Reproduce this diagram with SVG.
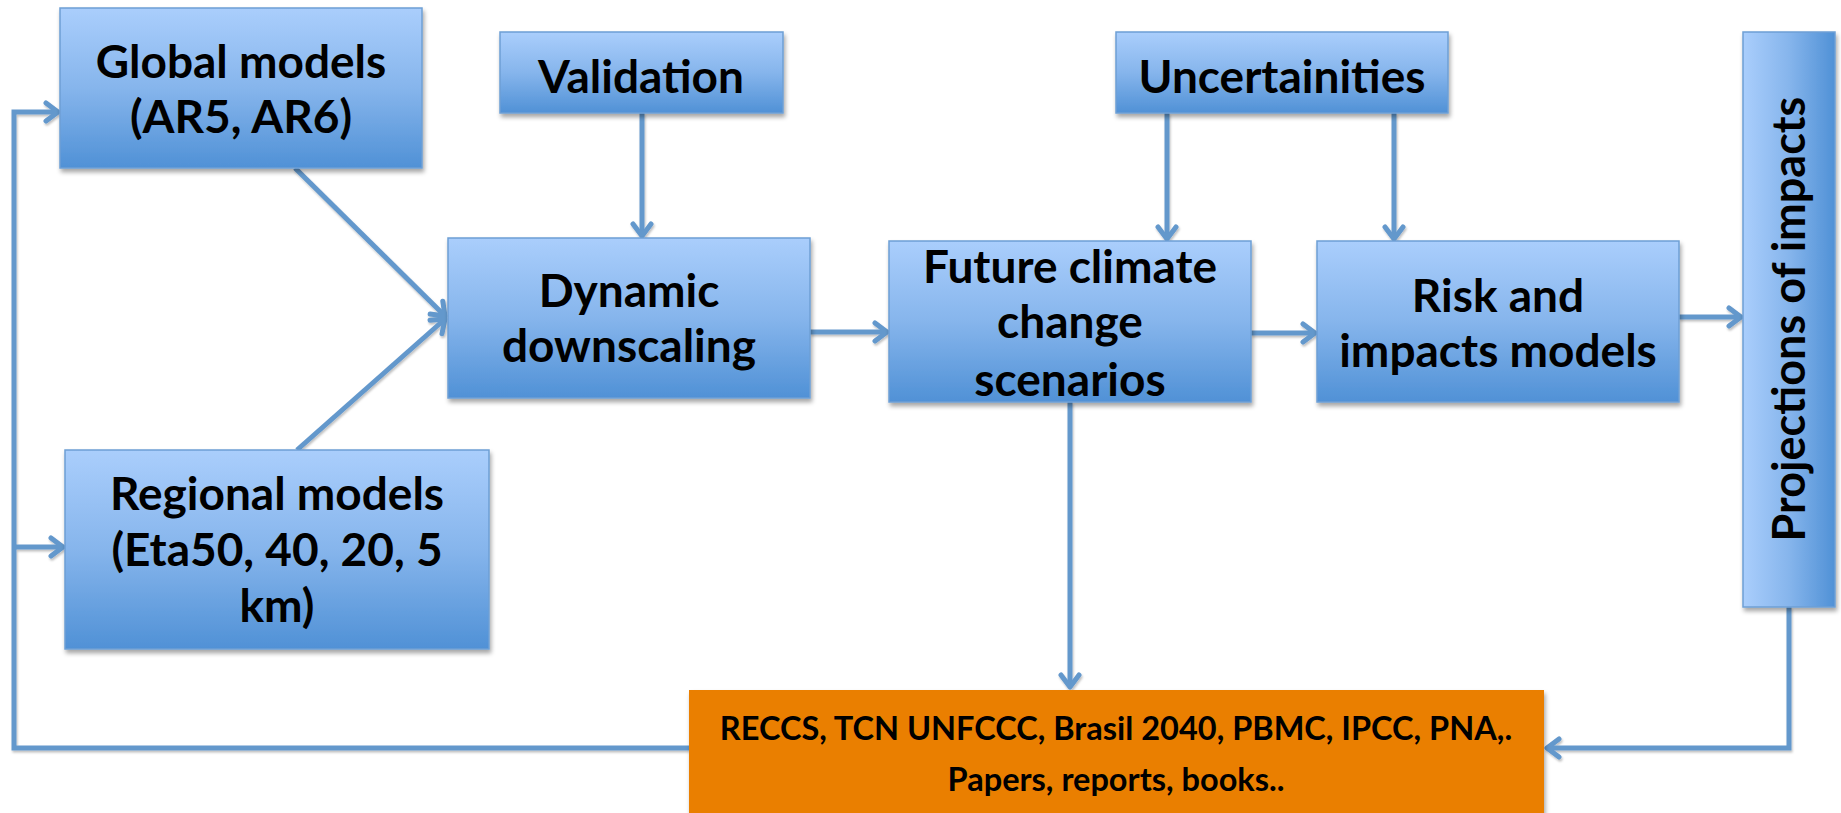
<svg xmlns="http://www.w3.org/2000/svg" width="1841" height="813" viewBox="0 0 1841 813">
  <style>
    .box { fill: url(#blueV); stroke: #6e9fd5; stroke-width: 1.5; filter: url(#shadow); }
    .boxh { fill: url(#blueH); stroke: #6e9fd5; stroke-width: 1.5; filter: url(#shadow); }
    .orange { fill: #ea7f03; filter: url(#shadow); }
    .t { font-family: Lato, "Liberation Sans", sans-serif; font-weight: bold; font-size: 46px; fill: #000; text-anchor: middle; }
    .tp { font-size: 45px; }
    .to { font-family: Lato, "Liberation Sans", sans-serif; font-weight: bold; font-size: 32.5px; fill: #000; text-anchor: middle; }
    .c { fill: none; stroke: #6498cc; stroke-width: 5; stroke-linejoin: miter; }
    .ca { marker-end: url(#arrow); }
  </style>
  <defs>
    <linearGradient id="blueV" x1="0" y1="0" x2="0" y2="1">
      <stop offset="0" stop-color="#aacefc"/>
      <stop offset="0.5" stop-color="#86b5ec"/>
      <stop offset="1" stop-color="#5091d6"/>
    </linearGradient>
    <linearGradient id="blueH" x1="0" y1="0" x2="1" y2="0">
      <stop offset="0" stop-color="#aacefc"/>
      <stop offset="0.5" stop-color="#86b5ec"/>
      <stop offset="1" stop-color="#5091d6"/>
    </linearGradient>
    <filter id="shadow" x="-10%" y="-10%" width="125%" height="130%">
      <feDropShadow dx="1.5" dy="3.5" stdDeviation="2" flood-color="#000" flood-opacity="0.35"/>
    </filter>
    <filter id="lshadow" x="-10%" y="-10%" width="125%" height="130%">
      <feDropShadow dx="1" dy="2" stdDeviation="1.2" flood-color="#000" flood-opacity="0.25"/>
    </filter>
    <marker id="arrow" viewBox="-16 -12 20 24" refX="0" refY="0" markerWidth="20" markerHeight="24" markerUnits="userSpaceOnUse" orient="auto">
      <path d="M-12,-9 L0,0 L-12,9" fill="none" stroke="#6498cc" stroke-width="5" stroke-linecap="round" stroke-linejoin="round"/>
    </marker>
  </defs>

  <g id="connectors" filter="url(#lshadow)">
    <path class="c ca" d="M295,168 L445,316"/>
    <path class="c ca" d="M297,450 L445,319"/>
    <path class="c ca" d="M642,113 L642,236"/>
    <path class="c ca" d="M810,332 L887,332"/>
    <path class="c ca" d="M1167,113 L1167,239"/>
    <path class="c ca" d="M1394,113 L1394,239"/>
    <path class="c ca" d="M1251,333 L1315,333"/>
    <path class="c ca" d="M1679,317 L1741,317"/>
    <path class="c ca" d="M1070,402 L1070,687"/>
    <path class="c ca" d="M1789,607 L1789,748 L1547,748"/>
    <path class="c ca" d="M689,748 L14,748 L14,112 L58,112"/>
    <path class="c ca" d="M14,547 L63,547"/>
  </g>

  <g id="global-models">
    <rect class="box" x="60" y="8" width="362" height="160"/>
    <text class="t" x="241" y="78">Global models</text>
    <text class="t" x="241" y="133">(AR5, AR6)</text>
  </g>

  <g id="regional-models">
    <rect class="box" x="65" y="450" width="424" height="199"/>
    <text class="t" x="277" y="510">Regional models</text>
    <text class="t" x="277" y="566">(Eta50, 40, 20, 5</text>
    <text class="t" x="277" y="622">km)</text>
  </g>

  <g id="validation">
    <rect class="box" x="500" y="32" width="283" height="81"/>
    <text class="t" x="641" y="93">Validation</text>
  </g>

  <g id="uncertainities">
    <rect class="box" x="1116" y="32" width="332" height="81"/>
    <text class="t" x="1282" y="93">Uncertainities</text>
  </g>

  <g id="dynamic-downscaling">
    <rect class="box" x="448" y="238" width="362" height="160"/>
    <text class="t" x="629" y="307">Dynamic</text>
    <text class="t" x="629" y="362">downscaling</text>
  </g>

  <g id="future-climate">
    <rect class="box" x="889" y="241" width="362" height="161"/>
    <text class="t" x="1070" y="283">Future climate</text>
    <text class="t" x="1070" y="338">change</text>
    <text class="t" x="1070" y="396">scenarios</text>
  </g>

  <g id="risk-impacts">
    <rect class="box" x="1317" y="241" width="362" height="161"/>
    <text class="t" x="1498" y="312">Risk and</text>
    <text class="t" x="1498" y="367">impacts models</text>
  </g>

  <g id="projections">
    <rect class="boxh" x="1743" y="32" width="92" height="575"/>
    <text class="t tp" transform="translate(1805,319) rotate(-90)" x="0" y="0">Projections of impacts</text>
  </g>

  <g id="outputs">
    <rect class="orange" x="689" y="690" width="855" height="130"/>
    <text class="to" x="1116" y="740">RECCS, TCN UNFCCC, Brasil 2040, PBMC, IPCC, PNA,.</text>
    <text class="to" x="1116" y="791">Papers, reports, books..</text>
  </g>
</svg>
